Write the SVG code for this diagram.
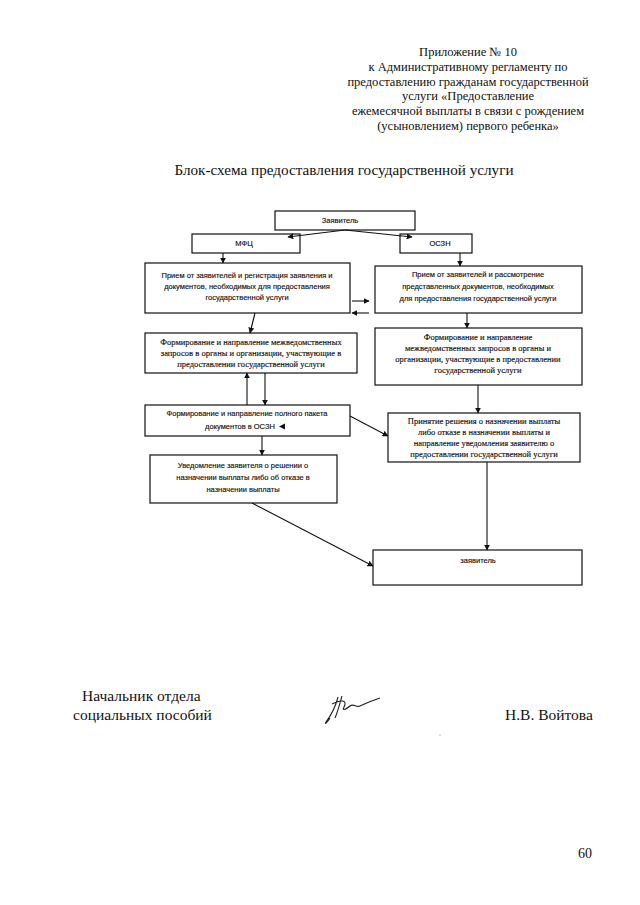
<svg xmlns="http://www.w3.org/2000/svg" width="640" height="905" viewBox="0 0 640 905">
<defs>
<marker id="ah" viewBox="0 0 10 10" refX="9" refY="5" markerWidth="6" markerHeight="6" orient="auto" markerUnits="userSpaceOnUse">
<path d="M0,0 L10,5 L0,10 z" fill="#111"/>
</marker>
<style>
.hdr{font-family:"Liberation Serif","Times New Roman",serif;font-size:12.5px;fill:#111;text-anchor:middle}
.ttl{font-family:"Liberation Serif","Times New Roman",serif;font-size:15.2px;fill:#111;text-anchor:middle}
.sig{font-family:"Liberation Serif","Times New Roman",serif;font-size:15.5px;fill:#111}
.box{fill:#fff;stroke:#111;stroke-width:1.2}
.ss{font-family:"Liberation Sans",Arial,sans-serif;font-size:7.5px;fill:#111;stroke:#111;stroke-width:0.15;text-anchor:middle}
.sr{font-family:"Liberation Serif","Times New Roman",serif;font-size:8.5px;fill:#111;stroke:#111;stroke-width:0.15;text-anchor:middle}
.ln{stroke:#111;stroke-width:1.1;fill:none}
</style>
</defs>
<rect width="640" height="905" fill="#fff"/>

<g id="header">
<text class="hdr" x="468" y="56">Приложение № 10</text>
<text class="hdr" x="468" y="71">к Административному регламенту по</text>
<text class="hdr" x="468" y="86">предоставлению гражданам государственной</text>
<text class="hdr" x="468" y="100">услуги «Предоставление</text>
<text class="hdr" x="468" y="115">ежемесячной выплаты в связи с рождением</text>
<text class="hdr" x="468" y="130">(усыновлением) первого ребенка»</text>
</g>

<g id="title">
<text class="ttl" x="344" y="175">Блок-схема предоставления государственной услуги</text>
</g>

<g id="n-applicant">
<rect class="box" x="275" y="211" width="140" height="19"/>
<text class="ss" x="340" y="223">Заявитель</text>
</g>
<g id="n-mfc">
<rect class="box" x="192" y="234" width="108" height="19"/>
<text class="ss" x="244" y="246">МФЦ</text>
</g>
<g id="n-oszn">
<rect class="box" x="400" y="234" width="72" height="19"/>
<text class="ss" x="440" y="246">ОСЗН</text>
</g>

<g id="n-l1">
<rect class="box" x="145" y="263" width="205" height="50"/>
<text class="ss" x="247" y="278">Прием от заявителей и регистрация заявления и</text>
<text class="ss" x="247" y="289">документов, необходимых для предоставления</text>
<text class="ss" x="247" y="300">государственной услуги</text>
</g>
<g id="n-l2">
<rect class="box" x="145" y="333" width="212" height="40"/>
<text class="sr" x="251" y="345">Формирование и направление межведомственных</text>
<text class="sr" x="251" y="356">запросов в органы и организации, участвующие в</text>
<text class="sr" x="251" y="367">предоставлении государственной услуги</text>
</g>
<g id="n-l3">
<rect class="box" x="145" y="405" width="205" height="31"/>
<text class="ss" x="247" y="416">Формирование и направление полного пакета</text>
<text class="ss" x="240" y="429">документов в ОСЗН</text>
<path d="M279,426.5 L285,423.5 L285,429.5 z" fill="#111"/>
</g>
<g id="n-l4">
<rect class="box" x="150" y="455" width="187" height="48"/>
<text class="ss" x="243" y="468">Уведомление заявителя о решении о</text>
<text class="ss" x="243" y="480">назначении выплаты либо об отказе в</text>
<text class="ss" x="243" y="492">назначении выплаты</text>
</g>

<g id="n-r1">
<rect class="box" x="375" y="266" width="207" height="47"/>
<text class="ss" x="478" y="277">Прием от заявителей и рассмотрение</text>
<text class="ss" x="478" y="289">представленных  документов, необходимых</text>
<text class="ss" x="478" y="301">для предоставления государственной услуги</text>
</g>
<g id="n-r2">
<rect class="box" x="375" y="328" width="207" height="57"/>
<text class="sr" x="478" y="340">Формирование и направление</text>
<text class="sr" x="478" y="351">межведомственных запросов в органы и</text>
<text class="sr" x="478" y="362">организации, участвующие в предоставлении</text>
<text class="sr" x="478" y="373">государственной услуги</text>
</g>
<g id="n-r3">
<rect class="box" x="388" y="413" width="192" height="49"/>
<text class="sr" x="484" y="424">Принятие решения о назначении выплаты</text>
<text class="sr" x="484" y="435">либо отказе в назначении выплаты и</text>
<text class="sr" x="484" y="446">направление уведомления заявителю о</text>
<text class="sr" x="484" y="457">предоставлении государственной услуги</text>
</g>
<g id="n-r4">
<rect class="box" x="373" y="550" width="209" height="35"/>
<text class="ss" x="478" y="563">заявитель</text>
</g>

<g id="connectors">
<line class="ln" x1="345" y1="230" x2="288" y2="237" marker-end="url(#ah)"/>
<line class="ln" x1="345" y1="230" x2="412" y2="237" marker-end="url(#ah)"/>
<line class="ln" x1="223" y1="253" x2="223" y2="263" marker-end="url(#ah)"/>
<line class="ln" x1="460" y1="253" x2="460" y2="266" marker-end="url(#ah)"/>
<line class="ln" x1="352" y1="301" x2="369" y2="301" marker-end="url(#ah)"/>
<line class="ln" x1="369" y1="313" x2="352" y2="313" marker-end="url(#ah)"/>
<line class="ln" x1="255" y1="313" x2="250" y2="333" marker-end="url(#ah)"/>
<line class="ln" x1="467" y1="313" x2="467" y2="328" marker-end="url(#ah)"/>
<line class="ln" x1="247" y1="405" x2="247" y2="373" marker-end="url(#ah)"/>
<line class="ln" x1="265" y1="373" x2="265" y2="405" marker-end="url(#ah)"/>
<line class="ln" x1="478" y1="385" x2="478" y2="413" marker-end="url(#ah)"/>
<line class="ln" x1="350" y1="416" x2="388" y2="436" marker-end="url(#ah)"/>
<line class="ln" x1="262" y1="436" x2="262" y2="455" marker-end="url(#ah)"/>
<line class="ln" x1="487" y1="462" x2="487" y2="550" marker-end="url(#ah)"/>
<line class="ln" x1="252" y1="503" x2="373" y2="566" marker-end="url(#ah)"/>
</g>

<g id="signature-block">
<text class="sig" x="82" y="701">Начальник отдела</text>
<text class="sig" x="73" y="720">социальных пособий</text>
<text class="sig" x="505" y="720">Н.В. Войтова</text>
<path d="M338,697 C336,705 332,714 326,722 C324,725 327,723 330,718 M342,696 C340,703 338,711 335,718 M332,704 C340,700 348,699 344,707 C342,711 345,710 350,706 C354,703 356,708 360,706 C366,703 372,701 380,698" fill="none" stroke="#222" stroke-width="1.1"/>
<circle cx="440" cy="735" r="0.6" fill="#666"/>
</g>

<g id="page-number">
<text class="sig" x="578" y="858" style="font-size:14px">60</text>
</g>
</svg>
